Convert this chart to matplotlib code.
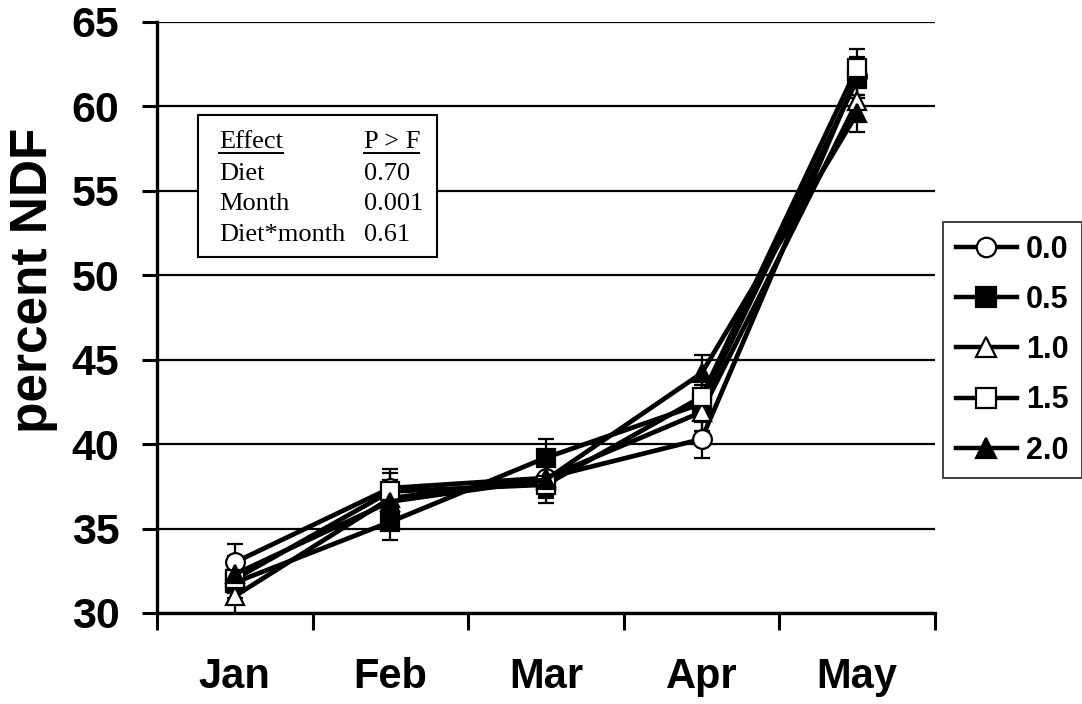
import matplotlib
matplotlib.use("Agg")
import matplotlib.pyplot as plt
from matplotlib.lines import Line2D

months = ["Jan", "Feb", "Mar", "Apr", "May"]
diets = ["0.0", "0.5", "1.0", "1.5", "2.0"]

ndf_00 = [33.0, 37.4, 38.0, 40.3, 61.8]
ndf_05 = [31.8, 35.4, 39.2, 42.4, 61.6]
ndf_10 = [31.0, 36.8, 38.0, 41.9, 60.3]
ndf_15 = [32.0, 37.2, 37.6, 42.8, 62.3]
ndf_20 = [32.3, 36.6, 37.9, 44.2, 59.6]
sem = [1.1, 1.1, 1.1, 1.1, 1.1]

effects = ["Diet", "Month", "Diet*month"]
p_values = ["0.70", "0.001", "0.61"]

series = [ndf_00, ndf_05, ndf_10, ndf_15, ndf_20]
styles = [("o", "white"), ("s", "black"), ("^", "white"), ("s", "white"), ("^", "black")]

W, H = 1082, 704
fig = plt.figure(figsize=(W / 100, H / 100), dpi=100)
ax = fig.add_axes([157 / W, 1 - 613 / H, (935 - 157) / W, (613 - 22) / H])

x = list(range(1, len(months) + 1))
handles = []
for vals, (mk, fc), name in zip(series, styles, diets):
    ax.errorbar(x, vals, yerr=sem, color="black", lw=3.4, marker=mk, ms=13.5,
                mfc=fc, mec="black", mew=1.6, capsize=6, capthick=1.6,
                elinewidth=1.6, zorder=3)
    handles.append(Line2D([], [], color="black", lw=3.2, marker=mk, ms=14,
                          mfc=fc, mec="black", mew=1.6, label=name))

ax.set_xlim(0.5, 5.5)
ax.set_ylim(30, 65)
ax.set_yticks(range(30, 66, 5))
ax.yaxis.grid(True, color="black", lw=1.6)
ax.set_axisbelow(True)

ax.set_xticks([i + 0.5 for i in range(0, 6)])
ax.set_xticklabels([])
ax.set_xticks(x, minor=True)
ax.set_xticklabels(months, minor=True)
ax.tick_params(axis="x", which="major", direction="out", length=12, width=2.2)
ax.tick_params(axis="x", which="minor", length=0, pad=32, labelsize=30)
ax.tick_params(axis="y", direction="out", length=11, width=2.2, pad=16, labelsize=31)
for lab in ax.get_xticklabels(minor=True) + ax.get_yticklabels():
    lab.set_fontweight("bold")
    lab.set_family("Liberation Sans")

for s in ("top", "right"):
    ax.spines[s].set_visible(False)
for s in ("left", "bottom"):
    ax.spines[s].set_linewidth(2.4)

fig.text(34 / W, 1 - 280 / H, "percent NDF", rotation=90, ha="center", va="center",
         fontsize=37, fontweight="bold", family="Liberation Sans")

# legend on the right
leg = fig.legend(handles=handles, loc="upper left", bbox_to_anchor=(943 / W, 1 - 222 / H),
                 frameon=True, fancybox=False, edgecolor="black", handlelength=2.0,
                 handletextpad=0.3, labelspacing=0.66, borderpad=0.42,
                 prop={"family": "Liberation Sans", "weight": "bold", "size": 22},
                 borderaxespad=0)
leg.get_frame().set_linewidth(1.3)

# inset table of effects
box = plt.Rectangle((198 / W, 1 - 257 / H), (437 - 198) / W, (257 - 115) / H,
                    transform=fig.transFigure, facecolor="white", edgecolor="black",
                    lw=1.5, zorder=5)
fig.patches.append(box)
col1, col2 = 219 / W, 364 / W
baselines = [148, 180, 210, 241]
tfont = {"family": "Liberation Serif", "size": 19}
fig.text(col1, 1 - baselines[0] / H, "Effect", va="baseline", ha="left", **tfont, zorder=6)
fig.text(col2, 1 - baselines[0] / H, "P > F", va="baseline", ha="left", **tfont, zorder=6)
for eff, pv, yy in zip(effects, p_values, baselines[1:]):
    fig.text(col1, 1 - yy / H, eff, va="baseline", ha="left", **tfont, zorder=6)
    fig.text(col2, 1 - yy / H, pv, va="baseline", ha="left", **tfont, zorder=6)
uy = 1 - 153 / H
fig.lines.append(Line2D([219 / W, 283 / W], [uy, uy], transform=fig.transFigure,
                        color="black", lw=1.4, zorder=6))
fig.lines.append(Line2D([364 / W, 419 / W], [uy, uy], transform=fig.transFigure,
                        color="black", lw=1.4, zorder=6))

fig.savefig("out.png", dpi=100)
